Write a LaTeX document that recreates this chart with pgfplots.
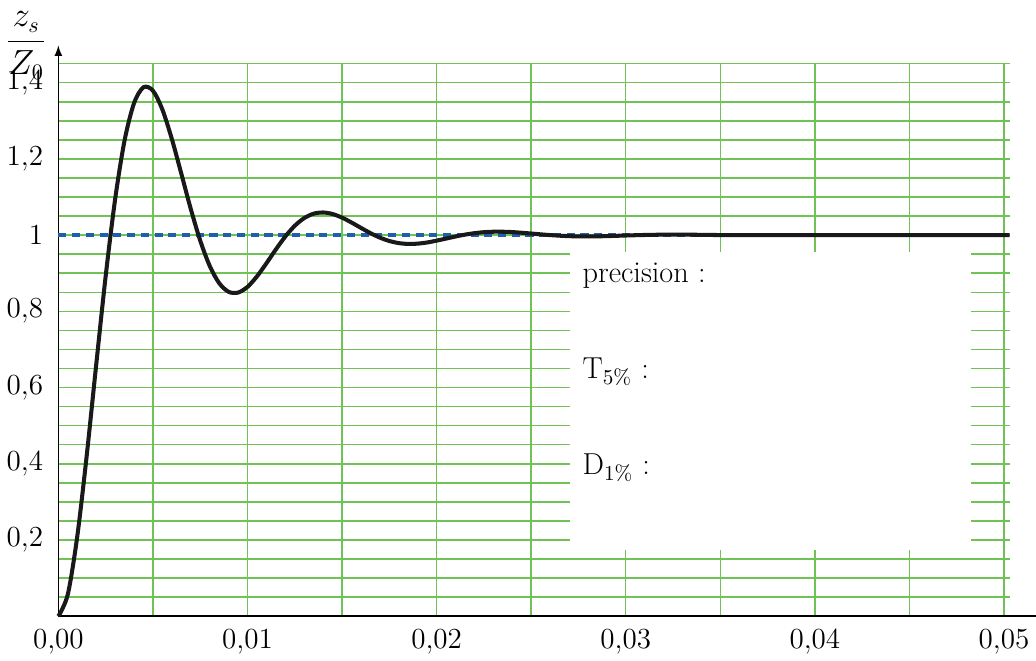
\documentclass[border=0pt]{standalone}
\usepackage{pgfplots}
\pgfplotsset{compat=1.18}
\definecolor{gridgreen}{RGB}{112,194,84}
\definecolor{dashblue}{RGB}{30,95,175}
\definecolor{curveblack}{RGB}{25,25,25}
\begin{document}
\begin{tikzpicture}
\begin{axis}[
  scale only axis,
  width=471pt, height=273.5pt,
  xmin=0, xmax=0.05032, ymin=0, ymax=1.45,
  axis lines=left,
  axis line style={line width=0.8pt, black},
  x axis line style={-latex, shorten >=-19pt},
  y axis line style={-latex, shorten >=-9pt},
  scaled x ticks=false, scaled y ticks=false,
  xtick={0,0.01,0.02,0.03,0.04,0.05},
  ytick={0.2,0.4,0.6,0.8,1,1.2,1.4},
  minor xtick={0.005,0.015,0.025,0.035,0.045},
  minor ytick={0.05,0.1,0.15,0.25,0.3,0.35,0.45,0.5,0.55,0.65,0.7,0.75,0.85,0.9,0.95,1.05,1.1,1.15,1.25,1.3,1.35,1.45},
  grid=both,
  major grid style={gridgreen, line width=0.75pt},
  minor grid style={gridgreen, line width=0.75pt},
  major tick length=0pt, minor tick length=0pt,
  xticklabel style={/pgf/number format/fixed, /pgf/number format/fixed zerofill, /pgf/number format/precision=2, /pgf/number format/use comma, yshift=-3pt},
  yticklabel style={/pgf/number format/fixed, /pgf/number format/precision=1, /pgf/number format/use comma, xshift=-4pt},
  tick label style={font=\fontsize{13.8}{15}\selectfont},
  clip=false,
]
% white box hiding part of the grid
\fill[white] (axis cs:0.02707,0.175) rectangle (axis cs:0.04824,0.955);
\node[anchor=base west, inner sep=0pt, font=\fontsize{15}{17}\selectfont] at (axis cs:0.0277,0.875) {precision :};
\node[anchor=base west, inner sep=0pt, font=\fontsize{15}{17}\selectfont] at (axis cs:0.0277,0.623) {T\textsubscript{5\%} :};
\node[anchor=base west, inner sep=0pt, font=\fontsize{15}{17}\selectfont] at (axis cs:0.0277,0.371) {D\textsubscript{1\%} :};
% reference level
\addplot[dashblue, line width=2.3pt, dash pattern=on 4pt off 2.8pt] coordinates {(0,1) (0.05,1)};
% step response
\addplot[curveblack, line width=2pt, smooth] coordinates {
(0,0) (0.0005,0.0575) (0.001,0.2094) (0.0015,0.4217) (0.002,0.6592) (0.0025,0.8915)
(0.003,1.0934) (0.0035,1.2481) (0.004,1.3460) (0.0045,1.3880) (0.005,1.3791)
(0.0055,1.3296) (0.006,1.2525) (0.0065,1.1616) (0.007,1.0690) (0.0075,0.9859)
(0.008,0.9195) (0.0085,0.8743) (0.009,0.8513) (0.0095,0.8492) (0.01,0.8641)
(0.0105,0.8916) (0.011,0.9260) (0.0115,0.9624) (0.012,0.9963) (0.0125,1.0245)
(0.013,1.0447) (0.0135,1.0563) (0.014,1.0594) (0.0145,1.0554) (0.015,1.0459)
(0.0155,1.0331) (0.016,1.0190) (0.0165,1.0053) (0.017,0.9935) (0.0175,0.9846)
(0.018,0.9791) (0.0185,0.9769) (0.019,0.9777) (0.0195,0.9807) (0.02,0.9855)
(0.0205,0.9909) (0.021,0.9964) (0.0215,1.0013) (0.022,1.0051) (0.0225,1.0077)
(0.023,1.0089) (0.0235,1.0089) (0.024,1.0080) (0.0245,1.0062) (0.025,1.0042)
(0.026,1.0001) (0.027,0.9973) (0.028,0.9965) (0.029,0.9974) (0.03,0.9990)
(0.031,1.0004) (0.032,1.0012) (0.033,1.0013) (0.034,1.0008) (0.035,1.0002)
(0.037,0.9998) (0.04,1.0000) (0.045,1.0000) (0.0503,1.0000)
};
\node[font=\fontsize{16}{18}\selectfont, inner sep=2pt] at (axis cs:-0.0017,1.497) {$\displaystyle\frac{z_s}{Z_0}$};
\path (axis cs:0,1.45) ++(0pt,31.5pt);
\end{axis}
\end{tikzpicture}
\end{document}
